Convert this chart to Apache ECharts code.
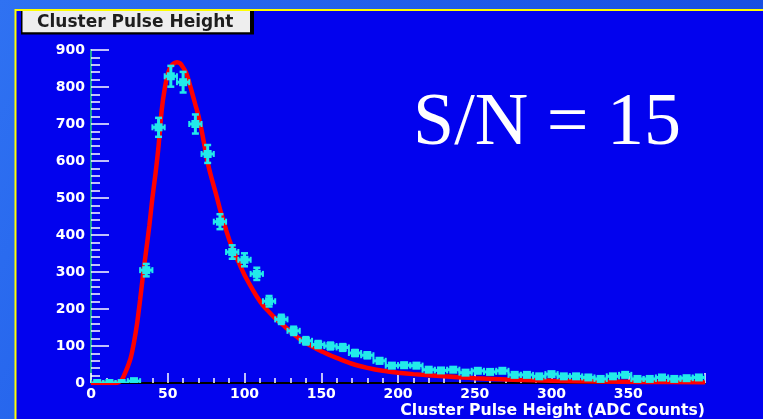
<!DOCTYPE html>
<html>
<head>
<meta charset="utf-8">
<script src="https://cdn.jsdelivr.net/npm/echarts@6/dist/echarts.min.js"></script>
<style>
  html, body { margin: 0; padding: 0; background: #1a55e6; }
  #chart { width: 763px; height: 419px; }
</style>
</head>
<body>
<div id="chart"></div>
<script>
// Histogram: bin width 8 ADC counts, 50 bins from 0 to 400
const binWidth = 8;
const binCenters = [
  4, 12, 20, 28, 36, 44, 52, 60, 68, 76,
  84, 92, 100, 108, 116, 124, 132, 140, 148, 156,
  164, 172, 180, 188, 196, 204, 212, 220, 228, 236,
  244, 252, 260, 268, 276, 284, 292, 300, 308, 316,
  324, 332, 340, 348, 356, 364, 372, 380, 388, 396
];
const counts = [
  0, 0, 0, 5, 305, 691, 829, 813, 700, 619,
  436, 354, 333, 295, 221, 172, 141, 114, 104, 100,
  96, 81, 75, 60, 47, 48, 47, 36, 34, 36,
  28, 33, 30, 33, 22, 22, 18, 24, 18, 18,
  15, 11, 18, 22, 11, 11, 15, 11, 13, 15
];

// Fitted curve (Landau convolved with Gaussian), sampled points
const fitX = [
  0, 10, 16, 18, 20, 22, 24, 26, 28, 30,
  32, 34, 36, 38, 40, 42, 44, 46, 48, 50,
  52, 54, 56, 58, 60, 62, 64, 66, 68, 70,
  72, 74, 76, 78, 80, 82, 84, 86, 88, 90,
  92, 94, 96, 98, 100, 104, 108, 112, 116, 120,
  125, 130, 135, 140, 150, 160, 170, 180, 190, 200,
  210, 230, 250, 275, 300, 330, 360, 400
];
const fitY = [
  0, 0, 0, 2, 8, 25, 45, 70, 110, 160,
  225, 295, 360, 425, 500, 565, 640, 735, 795, 835,
  855, 864, 867, 864, 853, 838, 812, 782, 752, 722,
  684, 640, 596, 562, 532, 502, 470, 442, 414, 388,
  366, 345, 328, 310, 292, 262, 234, 210, 192, 175,
  157, 139, 122, 108, 86, 68, 52, 41, 33, 28,
  24, 18, 13, 9, 6, 4, 3, 2
];

const xTickStep = 50;
const yTickStep = 100;
const xTitle = 'Cluster Pulse Height (ADC Counts)';
const histTitle = 'Cluster Pulse Height';
const snText = 'S/N = 15';

const pointData = binCenters.map((c, i) => [c, counts[i], Math.sqrt(counts[i])]);
const fitData = fitX.map((x, i) => [x, fitY[i]]);

const labelFont = {
  color: '#ffffff',
  fontFamily: 'DejaVu Sans',
  fontWeight: 'bold',
  fontSize: 14
};

const cyan = '#22eaea';

const chart = echarts.init(document.getElementById('chart'), null, { renderer: 'canvas' });

chart.setOption({
  animation: false,
  backgroundColor: 'transparent',
  graphic: [
    {
      type: 'rect', z: -20, silent: true,
      shape: { x: 0, y: 0, width: 763, height: 419 },
      style: {
        fill: new echarts.graphic.LinearGradient(0, 0, 1, 1, [
          { offset: 0, color: '#2f72f2' },
          { offset: 0.5, color: '#1e5ae8' },
          { offset: 1, color: '#1446dc' }
        ])
      }
    },
    {
      type: 'rect', z: -10, silent: true,
      shape: { x: 15.5, y: 10, width: 760, height: 420 },
      style: { fill: '#0202ee', stroke: '#ffff00', lineWidth: 2 }
    },
    {
      type: 'rect', z: 50, silent: true,
      shape: { x: 21, y: 11, width: 233, height: 23.5 },
      style: { fill: '#000000' }
    },
    {
      type: 'rect', z: 51, silent: true,
      shape: { x: 22.5, y: 11, width: 227.5, height: 21.3 },
      style: { fill: '#eeeeee' }
    }
  ],
  title: [
    {
      text: histTitle,
      left: 37, top: 13, padding: 0, z: 60,
      textStyle: {
        fontFamily: 'DejaVu Sans', fontWeight: 'bold', fontSize: 17,
        color: '#1e1e1e', lineHeight: 19
      }
    },
    {
      text: snText,
      left: 413, top: 88, padding: 0,
      textStyle: {
        fontFamily: 'Liberation Serif', fontWeight: 'normal', fontSize: 74,
        color: '#ffffff', lineHeight: 74
      }
    }
  ],
  grid: { left: 91, right: 58, top: 50, bottom: 35, containLabel: false },
  xAxis: [
    {
      type: 'value', min: 0, max: 400, interval: xTickStep, position: 'bottom',
      axisLine: { show: true, lineStyle: { color: '#ffffff', width: 2 } },
      axisTick: { show: true, inside: true, length: 10, lineStyle: { color: '#ffffff', width: 1.5 } },
      minorTick: { show: true, splitNumber: 5, length: 5, lineStyle: { color: '#ffffff', width: 1.5 } },
      axisLabel: Object.assign({ margin: 4, showMaxLabel: false }, labelFont),
      splitLine: { show: false },
      name: xTitle,
      nameLocation: 'end',
      nameGap: 0,
      nameTextStyle: {
        color: '#ffffff', fontFamily: 'DejaVu Sans', fontWeight: 'bold', fontSize: 15.7,
        align: 'right', verticalAlign: 'top', padding: [20, 0, 0, 0]
      }
    },
    {
      type: 'value', min: 0, max: 400, position: 'top',
      axisLine: { show: true, lineStyle: { color: '#000000', width: 2 } },
      axisTick: { show: false }, axisLabel: { show: false }, splitLine: { show: false }
    }
  ],
  yAxis: [
    {
      type: 'value', min: 0, max: 900, interval: yTickStep, position: 'left',
      axisLine: { show: true, lineStyle: { color: '#ffffff', width: 2 } },
      axisTick: { show: true, inside: true, length: 18, lineStyle: { color: '#ffffff', width: 1.5 } },
      minorTick: { show: true, splitNumber: 5, length: 9, lineStyle: { color: '#ffffff', width: 1.5 } },
      axisLabel: Object.assign({ margin: 6 }, labelFont),
      splitLine: { show: false }
    },
    {
      type: 'value', min: 0, max: 900, position: 'right',
      axisLine: { show: true, lineStyle: { color: '#1fa39c', width: 2 } },
      axisTick: { show: false }, axisLabel: { show: false }, splitLine: { show: false }
    }
  ],
  series: [
    {
      name: 'fit',
      type: 'line',
      data: fitData,
      showSymbol: false,
      smooth: 0.3,
      clip: true,
      z: 3,
      lineStyle: { color: '#ff0000', width: 4.5 }
    },
    {
      name: 'data',
      type: 'custom',
      data: pointData,
      clip: true,
      z: 5,
      renderItem: function (params, api) {
        const x = api.value(0), v = api.value(1), e = api.value(2);
        const c = api.coord([x, v]);
        const l = api.coord([x - binWidth / 2, v])[0];
        const r = api.coord([x + binWidth / 2, v])[0];
        const top = api.coord([x, v + e])[1];
        const bot = api.coord([x, v - e])[1];
        const st = { fill: cyan };
        const rect = (x0, y0, w, h) => ({ type: 'rect', shape: { x: x0, y: y0, width: w, height: h }, style: st });
        return {
          type: 'group',
          children: [
            rect(l, c[1] - 1.5, r - l, 3),
            rect(l - 1, c[1] - 3, 2, 6),
            rect(r - 1, c[1] - 3, 2, 6),
            rect(c[0] - 1.5, top, 3, bot - top),
            rect(c[0] - 3.5, top - 1, 7, 2.5),
            rect(c[0] - 3.5, bot - 1.5, 7, 2.5),
            rect(c[0] - 4, c[1] - 4, 8, 8)
          ]
        };
      }
    }
  ]
});
</script>
</body>
</html>
